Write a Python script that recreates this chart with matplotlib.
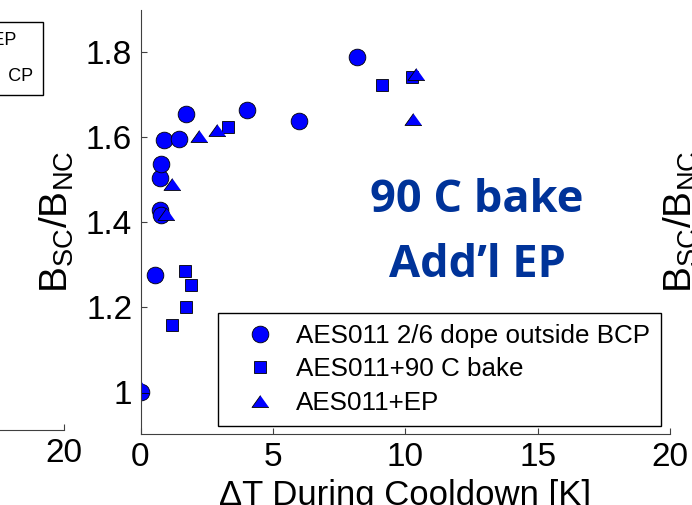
import matplotlib
matplotlib.use("Agg")
import matplotlib.pyplot as plt
from matplotlib.lines import Line2D

plt.rcParams["font.family"] = ["Liberation Sans", "DejaVu Sans"]
plt.rcParams["mathtext.default"] = "regular"

W, H = 692, 505

# B_SC/B_NC ratio vs temperature spread during cooldown
dope_x = [0.02, 0.55, 0.72, 0.78, 0.74, 0.78, 0.87, 1.44, 1.72, 4.04, 5.98, 8.16]
dope_y = [1.000, 1.275, 1.428, 1.416, 1.503, 1.536, 1.593, 1.595, 1.655, 1.664, 1.638, 1.789]

bake_x = [1.20, 1.73, 1.69, 1.91, 3.31, 9.14, 10.25]
bake_y = [1.158, 1.199, 1.285, 1.252, 1.624, 1.724, 1.741]

ep_x = [0.00, 0.96, 1.19, 2.20, 2.90, 10.31, 10.40]
ep_y = [1.010, 1.420, 1.489, 1.603, 1.618, 1.642, 1.748]

labels = ["AES011 2/6 dope outside BCP", "AES011+90 C bake", "AES011+EP"]
side_labels = ["AES011 2/6 dope inside EP", "AES011 2/6 dope outside  CP"]

x_ticks = [0, 5, 10, 15, 20]
y_ticks = [1.0, 1.2, 1.4, 1.6, 1.8]
y_ticklabels = ["1", "1.2", "1.4", "1.6", "1.8"]

BLUE = "#0000ff"
NAVY = "#003399"
# flattened triangle, wider than tall
TRI = [(0, 0.7), (-1, -0.7), (1, -0.7)]


def px_rect(left, top, right, bottom):
    return [left / W, 1 - bottom / H, (right - left) / W, (bottom - top) / H]


def style_axes(ax):
    ax.set_xlim(0, 20)
    ax.set_ylim(0.9, 1.9)
    ax.set_xticks(x_ticks)
    ax.set_yticks(y_ticks)
    ax.set_yticklabels(y_ticklabels)
    for side in ("top", "right"):
        ax.spines[side].set_visible(False)
    for side in ("left", "bottom"):
        ax.spines[side].set_linewidth(0.8)
        ax.spines[side].set_color("#404040")
    ax.tick_params(direction="in", length=4, width=0.8, color="#404040",
                   labelsize=24, pad=6)
    ax.set_ylabel(r"$B_{SC}/B_{NC}$", fontsize=28, labelpad=7)
    ax.patch.set_alpha(0)


fig = plt.figure(figsize=(W / 100, H / 100), dpi=100)

# neighbouring panels, only their edges fall inside the figure
ax_left = fig.add_axes(px_rect(-465.5, 6, 64, 430))
style_axes(ax_left)
ax_right = fig.add_axes(px_rect(764, 10, 1293, 434))
style_axes(ax_right)

side_handles = [
    Line2D([0], [0], ls="none", marker="o", ms=10, mfc=BLUE, mec="k", mew=0.6),
    Line2D([0], [0], ls="none", marker=TRI, ms=10, mfc=BLUE, mec="k", mew=0.6),
]
ax_left.legend(side_handles, side_labels, loc="upper right",
               bbox_to_anchor=(43 / W, 1 - 22 / H), bbox_transform=fig.transFigure,
               borderaxespad=0, fontsize=13, fancybox=False, edgecolor="black",
               framealpha=1, borderpad=0.55, labelspacing=1.05)

ax = fig.add_axes(px_rect(140.5, 10, 670, 434))
style_axes(ax)

ax.plot(dope_x, dope_y, ls="none", marker="o", ms=12, mfc=BLUE, mec="k",
        mew=0.6, label=labels[0])
ax.plot(bake_x, bake_y, ls="none", marker="s", ms=8.6, mfc=BLUE, mec="k",
        mew=0.6, label=labels[1])
ax.plot(ep_x, ep_y, ls="none", marker=TRI, ms=12.2, mfc=BLUE, mec="k",
        mew=0.6, label=labels[2])

ax.set_xlabel("ΔT During Cooldown [K]", fontsize=25, labelpad=4)

ax.legend(loc="lower right", bbox_to_anchor=(661 / W, 1 - 426 / H),
          bbox_transform=fig.transFigure, borderaxespad=0, fontsize=18.7,
          fancybox=False, edgecolor="black", framealpha=1, borderpad=0.43,
          labelspacing=0.36, handlelength=2.37, handletextpad=0.2)

fig.text(477 / W, 1 - 212 / H, "90 C bake", family="Open Sans", weight="bold",
         fontsize=32.5, color=NAVY, ha="center", va="baseline")
fig.text(477 / W, 1 - 277 / H, "Add\u2019l EP", family="Open Sans", weight="bold",
         fontsize=32.5, color=NAVY, ha="center", va="baseline")

fig.savefig("out.png", dpi=100)
